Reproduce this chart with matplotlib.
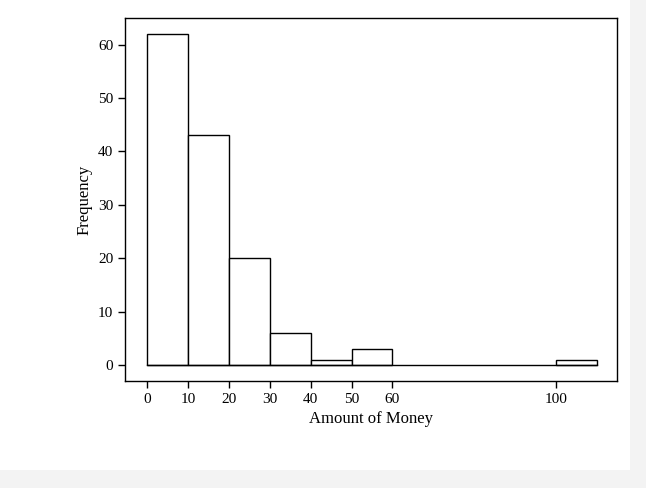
import matplotlib.pyplot as plt
from matplotlib.patches import Rectangle

bin_left = [0, 10, 20, 30, 40, 50, 100]
freq = [62, 43, 20, 6, 1, 3, 1]
x_ticks = [0, 10, 20, 30, 40, 50, 60, 100]
y_ticks = [0, 10, 20, 30, 40, 50, 60]

plt.rcParams['font.family'] = ['Liberation Serif', 'DejaVu Serif']
plt.rcParams['font.size'] = 11

fig = plt.figure(figsize=(6.46, 4.88), dpi=100)
fig.patch.set_facecolor('#f3f3f3')
fig.patches.append(Rectangle((0, 18 / 488), 630 / 646, 470 / 488, transform=fig.transFigure,
                             facecolor='white', edgecolor='none', zorder=-10))

ax = fig.add_axes([125 / 646, 1 - 381 / 488, 492 / 646, 363 / 488])
ax.set_zorder(1)
ax.bar(bin_left, freq, width=10, align='edge', color='white', edgecolor='black', linewidth=1)
ax.plot([0, 110], [0, 0], color='black', linewidth=1)
ax.set_xlim(-5.4, 114.9)
ax.set_ylim(-3, 65)
ax.set_xticks(x_ticks)
ax.set_yticks(y_ticks)
ax.set_xlabel('Amount of Money', fontsize=12)
ax.set_ylabel('Frequency', fontsize=12)
ax.tick_params(direction='out', length=5, width=1)
for s in ax.spines.values():
    s.set_linewidth(1)

plt.savefig('out.png', dpi=100)
